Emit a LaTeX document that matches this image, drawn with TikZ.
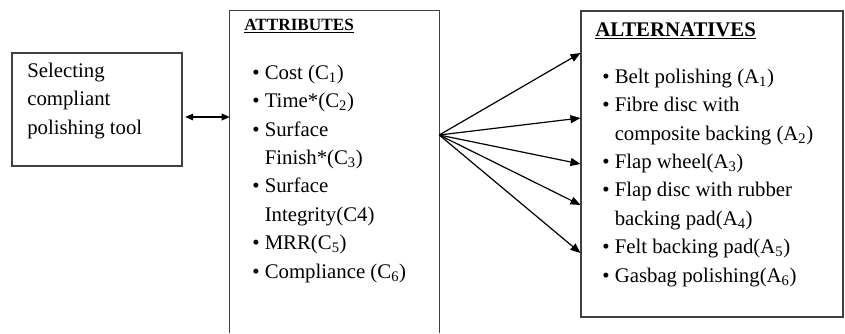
\documentclass[tikz,border=0pt]{standalone}
\usepackage{fontspec}
\setmainfont{Liberation Serif}
\usetikzlibrary{arrows.meta,positioning}

\tikzset{
  box/.style={draw=black!75, line width=0.8pt, inner sep=0pt},
  txt/.style={align=left, inner sep=0pt, anchor=north west,
    font=\fontsize{15.6}{21.3}\selectfont},
  head/.style={inner sep=0pt, anchor=base west, font=\bfseries},
  link/.style={-{Triangle[length=7.5pt,width=6pt]}, line width=0.9pt},
  both/.style={{Triangle[length=6pt,width=5pt]}-{Triangle[length=6pt,width=5pt]}, line width=0.9pt},
}
\newcommand{\itm}{\textbullet\ }
\newcommand{\ind}{\phantom{\textbullet\ }}

\begin{document}
\begin{tikzpicture}[x=0.75pt,y=-0.75pt]
  \useasboundingbox (0,0) rectangle (845,333);
  % the three boxes
  \node[box, minimum width=127.5pt, minimum height=84.75pt] (tool) at (97,109.5) {};
  \node[inner sep=0pt, minimum width=156.75pt, minimum height=241.5pt] (attr) at (334.5,172) {};
  \draw[box] (attr.south west) |- (attr.north east) -- (attr.south east);
  \node[box, minimum width=196.5pt, minimum height=229.5pt] (alt) at (712,164) {};

  % texts
  \node[txt] (tooltxt) at (27,62.5) {Selecting\\compliant\\polishing tool};
  \node[head, font=\fontsize{12.9}{15}\selectfont\bfseries] (attrhead) at (244,30) {\underline{ATTRIBUTES}};
  \node[txt] (attrlist) at (252,64.5) {%
    \itm Cost (C\textsubscript{1})\\
    \itm Time*(C\textsubscript{2})\\
    \itm Surface\\
    \ind Finish*(C\textsubscript{3})\\
    \itm Surface\\
    \ind Integrity(C4)\\
    \itm MRR(C\textsubscript{5})\\
    \itm Compliance (C\textsubscript{6})};
  \node[head, font=\fontsize{15.6}{18}\selectfont\bfseries] (althead) at (595,36) {\underline{ALTERNATIVES}};
  \node[txt] (altlist) at (602,68.5) {%
    \itm Belt polishing (A\textsubscript{1})\\
    \itm Fibre disc with\\
    \ind composite backing (A\textsubscript{2})\\
    \itm Flap wheel(A\textsubscript{3})\\
    \itm Flap disc with rubber\\
    \ind backing pad(A\textsubscript{4})\\
    \itm Felt backing pad(A\textsubscript{5})\\
    \itm Gasbag polishing(A\textsubscript{6})};

  % connectors
  \draw[both, shorten <=2pt] (tool.east |- 0,117) -- (attr.west |- 0,117);
  \coordinate (hub) at (attr.east |- 0,135);
  \foreach \y in {53,118,164,205,253}
    \draw[link] (hub) -- (alt.west |- 0,\y);
\end{tikzpicture}
\end{document}
